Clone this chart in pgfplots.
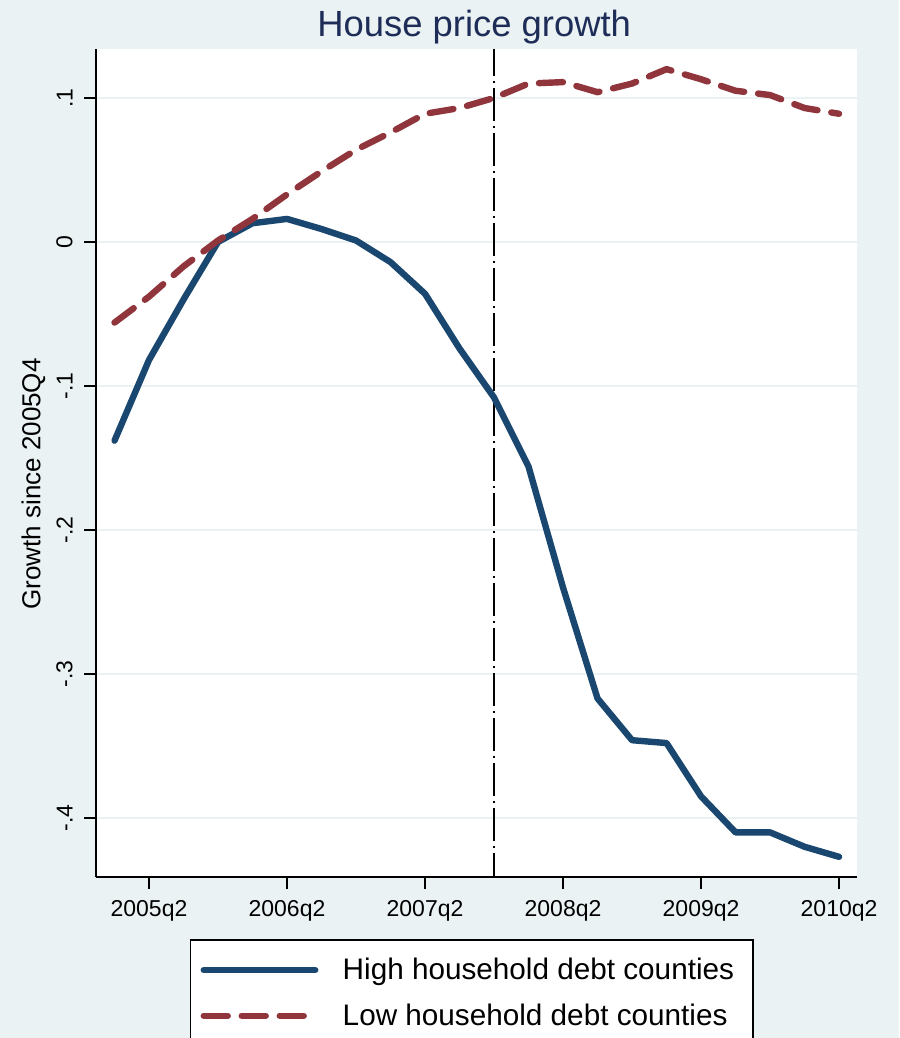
\documentclass[border=0pt]{standalone}
\usepackage{fontspec}
\setmainfont{Liberation Sans}
\usepackage{pgfplots}
\pgfplotsset{compat=1.18}
\definecolor{bg}{HTML}{EAF2F3}
\definecolor{navyS}{HTML}{1A476F}
\definecolor{maroonS}{HTML}{90353B}
\definecolor{titlec}{HTML}{1E2D58}
\begin{document}
\begin{tikzpicture}
\path[use as bounding box] (-48pt,-80.5pt) rectangle (401.5pt,438.5pt);
\clip (-48pt,-80.5pt) rectangle (401.5pt,438.5pt);
\fill[bg] (-48pt,-80.5pt) rectangle (401.5pt,438.5pt);
\begin{axis}[
  at={(0pt,0pt)}, anchor=south west,
  scale only axis, width=380.5pt, height=414pt,
  xmin=-0.536, xmax=21.52, ymin=-0.441, ymax=0.134,
  axis background/.style={fill=white},
  axis x line*=bottom, axis y line*=left,
  axis line style={black, line width=0.6pt, -},
  xtick={1,5,9,13,17,21},
  xticklabels={2005q2,2006q2,2007q2,2008q2,2009q2,2010q2},
  ytick={-0.4,-0.3,-0.2,-0.1,0,0.1},
  yticklabels={-.4,-.3,-.2,-.1,0,.1},
  tick align=outside, major tick length=6pt,
  tick style={black, line width=0.6pt},
  ymajorgrids, grid style={bg, line width=1pt},
  /pgf/number format/assume math mode=true,
  ticklabel style={font=\fontsize{11.5}{13}\selectfont},
  xticklabel style={anchor=north, inner sep=0pt},
  yticklabel style={rotate=90, anchor=south, inner sep=0pt},
  xticklabel shift=5.5pt, yticklabel shift=5.5pt,
  every axis y label/.style={at={(axis description cs:-0.0821,0.4746)}, rotate=90, anchor=center, font=\fontsize{13}{15}\selectfont},
  ylabel={Growth since 2005Q4},
  every axis title/.style={at={(axis description cs:0.497,1.01449)}, anchor=base, font=\fontsize{18.2}{21}\selectfont, text=titlec},
  title={House price growth},
  legend style={at={(axis description cs:0.1235,-0.0749)}, anchor=north west, draw=black, line width=0.75pt, fill=white, inner xsep=0pt, inner ysep=9pt, nodes={inner sep=0pt}, row sep=10.6pt, column sep=0pt, font=\fontsize{14.85}{17}\selectfont},
  legend cell align=left,
  legend image code/.code={\path[draw=none, fill=none] (0pt,-1pt) rectangle (76pt,1pt); \draw[#1] (6.5pt,0pt) -- (62.25pt,0pt);},
]
\addplot[forget plot, black, line width=0.9pt, dash pattern=on 16.5pt off 2.5pt on 1pt off 2.5pt, dash phase=4.5pt] coordinates {(11,-0.441) (11,0.134)};
\addplot[navyS, line width=3.2pt, line cap=round, line join=round] coordinates {
(0,-0.138) (1,-0.082) (2,-0.040) (3,0.000) (4,0.013) (5,0.016) (6,0.009) (7,0.001)
(8,-0.014) (9,-0.036) (10,-0.074) (11,-0.108) (12,-0.156) (13,-0.240) (14,-0.317)
(15,-0.346) (16,-0.348) (17,-0.385) (18,-0.410) (19,-0.410) (20,-0.420) (21,-0.427)};
\addlegendentry{High household debt counties\hspace*{9.5pt}}
\addplot[maroonS, line width=3.2pt, line cap=round, line join=round, dash pattern=on 12pt off 7pt] coordinates {
(0,-0.056) (1,-0.038) (2,-0.017) (3,0.001) (4,0.016) (5,0.033) (6,0.049) (7,0.064)
(8,0.076) (9,0.089) (10,0.093) (11,0.100) (12,0.110) (13,0.111) (14,0.104)
(15,0.110) (16,0.120) (17,0.113) (18,0.105) (19,0.102) (20,0.093) (21,0.089)};
\addlegendentry{Low household debt counties}
\end{axis}
\end{tikzpicture}
\end{document}
